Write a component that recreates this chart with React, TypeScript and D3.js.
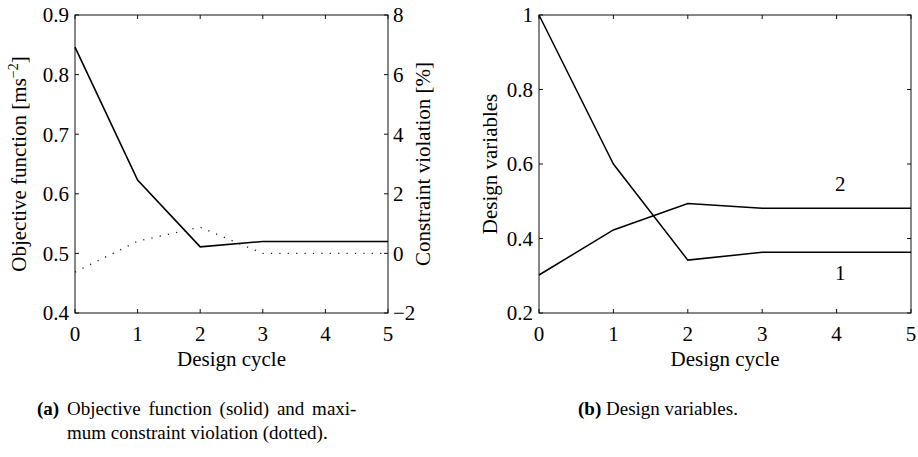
import React from "react";
import * as d3 from "d3";

// Design optimisation history
const cycles = [0, 1, 2, 3, 4, 5];
const objective = [0.846, 0.623, 0.511, 0.52, 0.52, 0.52];
const violation = [-0.63, 0.41, 0.88, 0.0, 0.0, 0.0];
const designVar1 = [1.0, 0.6, 0.342, 0.363, 0.363, 0.363];
const designVar2 = [0.302, 0.423, 0.494, 0.481, 0.481, 0.481];

const cycleTicks = [0, 1, 2, 3, 4, 5];
const objectiveTicks = [0.4, 0.5, 0.6, 0.7, 0.8, 0.9];
const violationTicks = [-2, 0, 2, 4, 6, 8];
const designTicks = [0.2, 0.4, 0.6, 0.8, 1];

const FONT = "'Liberation Serif', 'Times New Roman', serif";
const TICK = 4;

const fmtMinus = (v: number) => (v < 0 ? "\u2212" + Math.abs(v) : String(v));

type Frame = { x0: number; x1: number; y0: number; y1: number };

function FrameBox({ f }: { f: Frame }) {
  return (
    <rect x={f.x0} y={f.y0} width={f.x1 - f.x0} height={f.y1 - f.y0}
      fill="none" stroke="#111" strokeWidth={1} />
  );
}

function XTicks({ x, f }: { x: d3.ScaleLinear<number, number>; f: Frame }) {
  return (
    <g>
      {cycleTicks.map((t) => (
        <g key={t}>
          <line x1={x(t)} x2={x(t)} y1={f.y1} y2={f.y1 - TICK} stroke="#111" />
          <line x1={x(t)} x2={x(t)} y1={f.y0} y2={f.y0 + TICK} stroke="#111" />
          <text x={x(t)} y={f.y1 + 28} textAnchor="middle" fontSize={21}>{t}</text>
        </g>
      ))}
      <text x={(f.x0 + f.x1) / 2} y={f.y1 + 53} textAnchor="middle" fontSize={21}>
        Design cycle
      </text>
    </g>
  );
}

export default function App() {
  const fa: Frame = { x0: 75, x1: 388, y0: 15, y1: 313 };
  const fb: Frame = { x0: 539, x1: 911, y0: 15, y1: 313 };

  const xa = d3.scaleLinear().domain([0, 5]).range([fa.x0, fa.x1]);
  const yObj = d3.scaleLinear().domain([0.4, 0.9]).range([fa.y1, fa.y0]);
  const yViol = d3.scaleLinear().domain([-2, 8]).range([fa.y1, fa.y0]);

  const xb = d3.scaleLinear().domain([0, 5]).range([fb.x0, fb.x1]);
  const yDes = d3.scaleLinear().domain([0.2, 1]).range([fb.y1, fb.y0]);

  const lineObj = d3.line<number>().x((_, i) => xa(cycles[i])).y((d) => yObj(d));
  const lineViol = d3.line<number>().x((_, i) => xa(cycles[i])).y((d) => yViol(d));
  const lineDes = d3.line<number>().x((_, i) => xb(cycles[i])).y((d) => yDes(d));

  const last = cycles.length - 1;

  return (
    <svg width={918} height={457}
      style={{ position: "absolute", left: 0, top: 0, background: "#fff", fontFamily: FONT }}>
      {/* (a) objective and constraint violation */}
      <FrameBox f={fa} />
      <XTicks x={xa} f={fa} />
      {objectiveTicks.map((t) => (
        <g key={t}>
          <line x1={fa.x0} x2={fa.x0 + TICK} y1={yObj(t)} y2={yObj(t)} stroke="#111" />
          <text x={fa.x0 - 6} y={yObj(t)} dy="0.35em" textAnchor="end" fontSize={21}>{t.toFixed(1)}</text>
        </g>
      ))}
      {violationTicks.map((t) => (
        <g key={t}>
          <line x1={fa.x1} x2={fa.x1 - TICK} y1={yViol(t)} y2={yViol(t)} stroke="#111" />
          <text x={fa.x1 + 5} y={yViol(t)} dy="0.35em" textAnchor="start" fontSize={21}>{fmtMinus(t)}</text>
        </g>
      ))}
      <text transform={`translate(26,${(fa.y0 + fa.y1) / 2}) rotate(-90)`} textAnchor="middle" fontSize={21}>
        Objective function [ms<tspan fontSize={14} dy={-8}>{"\u22122"}</tspan><tspan dy={8}>]</tspan>
      </text>
      <text transform={`translate(${fa.x1 + 42},${(fa.y0 + fa.y1) / 2}) rotate(-90)`} textAnchor="middle" fontSize={21}>
        Constraint violation [%]
      </text>
      <path d={lineObj(objective) ?? ""} fill="none" stroke="#000" strokeWidth={1.6} />
      <path d={lineViol(violation) ?? ""} fill="none" stroke="#222" strokeWidth={1.4}
        strokeDasharray="1.2 7.2" />

      {/* (b) design variables */}
      <FrameBox f={fb} />
      <XTicks x={xb} f={fb} />
      {designTicks.map((t) => (
        <g key={t}>
          <line x1={fb.x0} x2={fb.x0 + TICK} y1={yDes(t)} y2={yDes(t)} stroke="#111" />
          <line x1={fb.x1} x2={fb.x1 - TICK} y1={yDes(t)} y2={yDes(t)} stroke="#111" />
          <text x={fb.x0 - 6} y={yDes(t)} dy="0.35em" textAnchor="end" fontSize={21}>{String(t)}</text>
        </g>
      ))}
      <text transform={`translate(497,${(fb.y0 + fb.y1) / 2}) rotate(-90)`} textAnchor="middle" fontSize={21}>
        Design variables
      </text>
      <path d={lineDes(designVar1) ?? ""} fill="none" stroke="#000" strokeWidth={1.5} />
      <path d={lineDes(designVar2) ?? ""} fill="none" stroke="#000" strokeWidth={1.5} />
      <text x={xb(4.05)} y={yDes(designVar2[last]) - 17} textAnchor="middle" fontSize={21}>2</text>
      <text x={xb(4.05)} y={yDes(designVar1[last]) + 28} textAnchor="middle" fontSize={21}>1</text>

      {/* captions */}
      <text x={37} y={415} fontSize={19} wordSpacing={3}>
        <tspan fontWeight="bold">(a)</tspan> Objective function (solid) and maxi-
      </text>
      <text x={67} y={439} fontSize={19}>mum constraint violation (dotted).</text>
      <text x={578} y={415} fontSize={19}>
        <tspan fontWeight="bold">(b)</tspan> Design variables.
      </text>
    </svg>
  );
}
